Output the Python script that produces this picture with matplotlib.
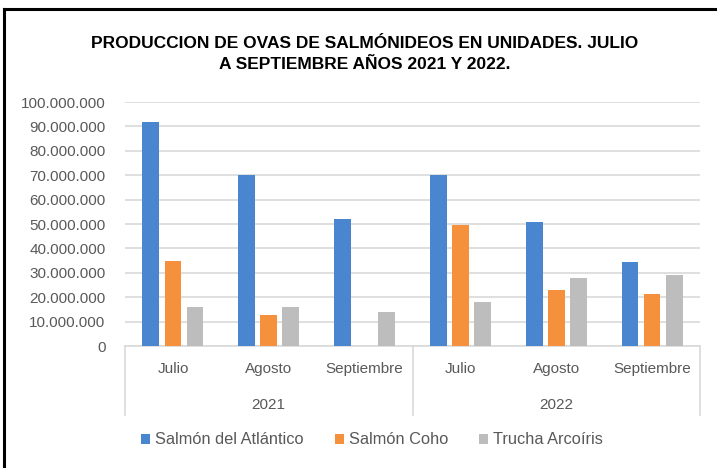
import numpy as np
import matplotlib
matplotlib.use("Agg")
import matplotlib.pyplot as plt
from matplotlib.lines import Line2D
from matplotlib.patches import Patch
import matplotlib.transforms as mtransforms

plt.rcParams['font.family'] = ['Liberation Sans', 'DejaVu Sans']

# Data
months = ["Julio", "Agosto", "Septiembre", "Julio", "Agosto", "Septiembre"]
years = ["2021", "2022"]
series_names = ["Salmón del Atlántico", "Salmón Coho", "Trucha Arcoíris"]
atlantico = [92000000, 70000000, 52000000, 70000000, 51000000, 34500000]
coho = [35000000, 12700000, 0, 49700000, 23000000, 21300000]
trucha = [16000000, 16000000, 14000000, 18000000, 27700000, 29000000]
title = "PRODUCCION DE OVAS DE SALMÓNIDEOS EN UNIDADES. JULIO\nA SEPTIEMBRE AÑOS 2021 Y 2022."

colors = ["#4a86d0", "#f5913c", "#bdbdbd"]
text_gray = "#595959"
line_gray = "#d9d9d9"

W, H = 717, 468
fig = plt.figure(figsize=(W / 100, H / 100), dpi=100)

# plot area in pixel coordinates
left_px, right_px, top_px, base_px = 125, 700, 102, 346
ax = fig.add_axes([left_px / W, 1 - base_px / H, (right_px - left_px) / W, (base_px - top_px) / H])

x = np.arange(len(months))
step = 0.23
width = 0.175
for i, (vals, name) in enumerate(zip([atlantico, coho, trucha], series_names)):
    ax.bar(x + (i - 1) * step, vals, width, color=colors[i], label=name, zorder=3)

ax.set_xlim(-0.5, len(months) - 0.5)
ax.set_ylim(0, 100000000)
ticks = np.arange(0, 100000001, 10000000)
ax.set_yticks(ticks)
ax.set_yticklabels([f"{int(t):,}".replace(",", ".") for t in ticks], color=text_gray, fontsize=11)
ax.tick_params(axis='y', length=0, pad=14)
ax.tick_params(axis='x', length=0, labelbottom=False)
ax.grid(axis='y', color=line_gray, linewidth=1.2, zorder=0)
for s in ["top", "right", "left"]:
    ax.spines[s].set_visible(False)
ax.spines["bottom"].set_color(line_gray)
ax.spines["bottom"].set_linewidth(1.2)

# multi-level category axis
trans = mtransforms.blended_transform_factory(ax.transData, ax.transAxes)
ax_h = base_px - top_px
for xi, m in zip(x, months):
    ax.text(xi, -23 / ax_h, m, transform=trans, ha="center", va="center",
            fontsize=11, color=text_gray)
for gi, yr in enumerate(years):
    ax.text(gi * 3 + 1, -59 / ax_h, yr, transform=trans, ha="center", va="center",
            fontsize=11, color=text_gray)
for sx in [-0.5, 2.5, 5.5]:
    ax.add_line(Line2D([sx, sx], [0, -69 / ax_h], transform=trans, color=line_gray,
                       linewidth=1.2, clip_on=False))

# title
fig.text(365 / W, 1 - 54 / H, title, ha="center", va="center", fontsize=12.5,
         fontweight="bold", color="black", linespacing=1.45)

# legend
handles = [Patch(facecolor=c, edgecolor="none") for c in colors]
fig.legend(handles, series_names, loc="center", bbox_to_anchor=(372 / W, 1 - 440 / H),
           ncol=3, frameon=False, fontsize=11.8, labelcolor=text_gray,
           handlelength=0.55, handleheight=0.55, handletextpad=0.3, columnspacing=1.9)

# outer frame (top and left only)
fig.add_artist(Line2D([4 / W, 1], [1 - 9 / H, 1 - 9 / H], transform=fig.transFigure,
                      color="black", linewidth=2.2))
fig.add_artist(Line2D([4 / W, 4 / W], [0, 1 - 9 / H], transform=fig.transFigure,
                      color="black", linewidth=2.2))

fig.savefig("out.png", dpi=100)
